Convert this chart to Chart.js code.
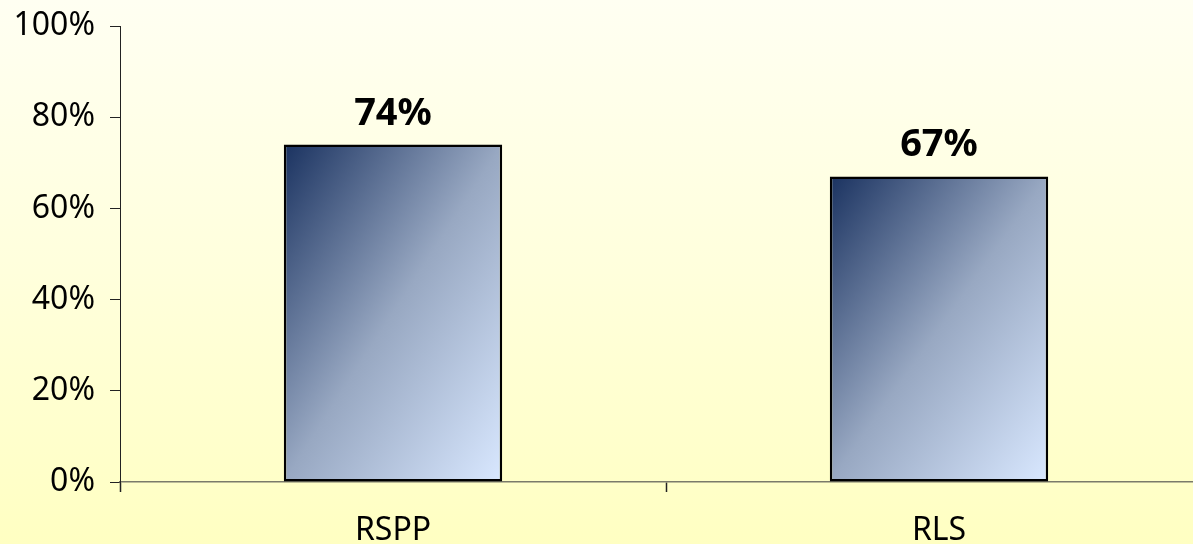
<!DOCTYPE html>
<html>
<head>
<meta charset="utf-8">
<script src="https://cdn.jsdelivr.net/npm/chart.js@4"></script>
<style>
  html, body { margin: 0; padding: 0; overflow: hidden; }
  body { width: 1193px; height: 544px; background: linear-gradient(to bottom, #fffff2 0%, #ffffdc 50%, #ffffc2 100%); }
  #wrap { width: 1230px; height: 544px; position: relative; }
</style>
</head>
<body>
<div id="wrap"><canvas id="chart"></canvas></div>
<script>
// values
const categories = ['RSPP', 'RLS'];
const shares = [74, 67];
const yTicks = [0, 20, 40, 60, 80, 100];

const BAR_PCT = 0.4;
const FONT = '"Noto Sans", "DejaVu Sans", sans-serif';

// diagonal navy -> pale blue fill, one gradient per bar
// (iso-lines run along the bar's other diagonal)
function barFill(c) {
    const chart = c.chart;
    if (!chart.chartArea) return '#8a9ab5';
    const xs = chart.scales.x, ys = chart.scales.y;
    const cx = xs.getPixelForValue(c.dataIndex);
    const w = xs.width / categories.length * BAR_PCT;
    const top = ys.getPixelForValue(c.raw);
    const h = ys.getPixelForValue(0) - top;
    const left = cx - w / 2;
    const t = 2 * w * h / (w * w + h * h);
    const g = chart.ctx.createLinearGradient(left, top, left + t * h, top + t * w);
    g.addColorStop(0, '#1a3260');
    g.addColorStop(0.5, '#98a8c2');
    g.addColorStop(1, '#d9e8ff');
    return g;
}

// bold % labels over the bars
const valueLabels = {
    id: 'valueLabels',
    afterDatasetsDraw(chart) {
        const ctx = chart.ctx;
        ctx.save();
        ctx.font = 'bold 38px ' + FONT;
        ctx.fillStyle = '#000';
        ctx.textAlign = 'center';
        ctx.textBaseline = 'alphabetic';
        chart.getDatasetMeta(0).data.forEach((bar, i) => {
            ctx.fillText(shares[i] + '%', bar.x, bar.y - 20);
        });
        ctx.restore();
    }
};

new Chart(document.getElementById('chart'), {
    type: 'bar',
    data: {
        labels: categories,
        datasets: [{
            data: shares,
            backgroundColor: barFill,
            borderColor: '#000',
            borderWidth: 2.5,
            borderSkipped: false,
            barPercentage: BAR_PCT,
            categoryPercentage: 1
        }]
    },
    options: {
        responsive: true,
        maintainAspectRatio: false,
        animation: false,
        layout: { padding: { top: 26, right: 18, left: 0, bottom: 0 } },
        plugins: { legend: { display: false }, tooltip: { enabled: false } },
        scales: {
            x: {
                offset: true,
                grid: { offset: true, drawOnChartArea: false, tickLength: 10, tickColor: '#222', tickWidth: 1.5 },
                border: { color: '#7a7a6a', width: 1.5 },
                ticks: { color: '#000', font: { family: FONT, size: 32 }, padding: 20 },
                afterFit(s) { s.height = 62; }
            },
            y: {
                min: 0,
                max: 100,
                afterBuildTicks(s) { s.ticks = yTicks.map(v => ({ value: v })); },
                grid: { drawOnChartArea: false, tickLength: 10, tickColor: '#222' },
                border: { color: '#222', width: 1 },
                ticks: { color: '#000', font: { family: FONT, size: 32 }, padding: 15, callback: v => v + '%' },
                afterFit(s) { s.width = 120; s.paddingTop = 0; s.paddingBottom = 0; }
            }
        }
    },
    plugins: [valueLabels]
});
</script>
</body>
</html>
